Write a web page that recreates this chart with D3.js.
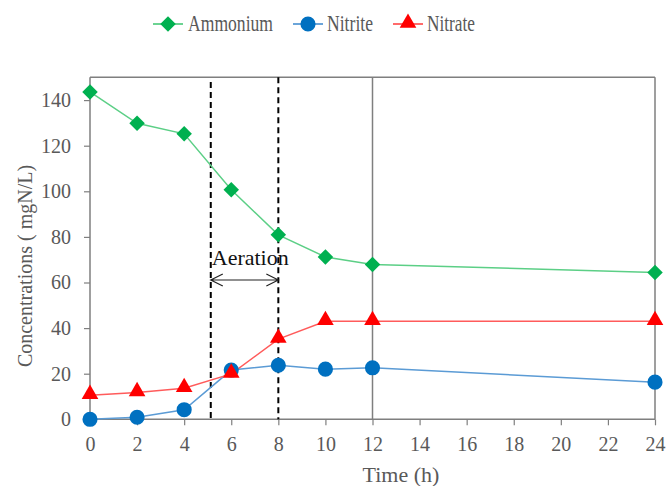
<!DOCTYPE html>
<html>
<head>
<meta charset="utf-8">
<script src="https://cdn.jsdelivr.net/npm/d3@7"></script>
<style>
  html, body { margin: 0; padding: 0; background: #fff; }
  svg { display: block; }
</style>
</head>
<body>
<svg id="chart" width="667" height="486"></svg>
<script>
const times = [0, 2, 4, 6, 8, 10, 12, 24];
const ammonium = [143.6, 129.8, 125.2, 100.7, 80.9, 71.2, 67.9, 64.4];
const nitrite = [0, 0.9, 4.2, 21.6, 23.7, 22.0, 22.6, 16.3];
const nitrate = [10.6, 11.8, 13.6, 19.9, 35.2, 43.0, 43.0, 43.0];
const xTicks = [0, 2, 4, 6, 8, 10, 12, 14, 16, 18, 20, 22, 24];
const yTicks = [0, 20, 40, 60, 80, 100, 120, 140];
const seriesNames = ["Ammonium", "Nitrite", "Nitrate"];
const aerationStart = 5.13, aerationEnd = 8, markerLine = 12;

const FONT = "Liberation Serif";
const svg = d3.select("#chart");
const x = d3.scaleLinear().domain([0, 24]).range([90, 655]);
const y = d3.scaleLinear().domain([0, 150]).range([419.3, 77.3]);

const axisGray = "#7f7f7f";
const textGray = "#595959";

// frame top and right
svg.append("line").attr("x1", x(0)).attr("x2", x(24)).attr("y1", y(150)).attr("y2", y(150))
  .attr("stroke", axisGray).attr("stroke-width", 1.5);
svg.append("line").attr("x1", x(24)).attr("x2", x(24)).attr("y1", y(150)).attr("y2", y(0))
  .attr("stroke", axisGray).attr("stroke-width", 1.5);

// axes
const yAxis = svg.append("g").attr("transform", `translate(${x(0)},0)`)
  .call(d3.axisLeft(y).tickValues(yTicks).tickSize(6).tickPadding(13).tickFormat(d3.format("d")));
const xAxis = svg.append("g").attr("transform", `translate(0,${y(0)})`)
  .call(d3.axisBottom(x).tickValues(xTicks).tickSize(6).tickPadding(12).tickFormat(d3.format("d")));
[xAxis, yAxis].forEach(g => {
  g.attr("font-family", FONT).attr("font-size", 20);
  g.select(".domain").attr("stroke", axisGray).attr("stroke-width", 1.5);
  g.selectAll(".tick line").attr("stroke", axisGray).attr("stroke-width", 1.2);
  g.selectAll(".tick text").attr("fill", textGray).attr("font-family", FONT).attr("font-size", 20);
});
yAxis.select(".domain").attr("d", `M0,${y(150)}V${y(0)}`);
xAxis.select(".domain").attr("d", `M${x(0)},0H${x(24)}`);

// vertical line at 12
svg.append("line").attr("x1", x(markerLine)).attr("x2", x(markerLine)).attr("y1", y(150)).attr("y2", y(0))
  .attr("stroke", axisGray).attr("stroke-width", 1.5);

// aeration dashed lines
svg.append("line").attr("x1", x(aerationStart)).attr("x2", x(aerationStart)).attr("y1", 82).attr("y2", y(0))
  .attr("stroke", "#000").attr("stroke-width", 2).attr("stroke-dasharray", "6,4");
svg.append("line").attr("x1", x(aerationEnd)).attr("x2", x(aerationEnd)).attr("y1", y(150)).attr("y2", y(0))
  .attr("stroke", "#000").attr("stroke-width", 2).attr("stroke-dasharray", "6,4");

// arrow
const ay = 280, ax1 = x(aerationStart), ax2 = x(aerationEnd);
svg.append("path")
  .attr("d", `M${ax1},${ay}H${ax2} M${ax1 + 12},${ay - 6}L${ax1},${ay}L${ax1 + 12},${ay + 6} M${ax2 - 12},${ay - 6}L${ax2},${ay}L${ax2 - 12},${ay + 6}`)
  .attr("fill", "none").attr("stroke", "#222").attr("stroke-width", 1.2);
svg.append("text").attr("x", ax1 + 1).attr("y", 265).text("Aeration")
  .attr("font-size", 22).attr("font-family", FONT).attr("fill", "#111");

// series
const series = [
  { name: seriesNames[0], values: ammonium, line: "#5ccf86", fill: "#00b050", shape: "diamond" },
  { name: seriesNames[1], values: nitrite, line: "#5b9bd5", fill: "#0070c0", shape: "circle" },
  { name: seriesNames[2], values: nitrate, line: "#ff5b5b", fill: "#ff0000", shape: "triangle" }
];
function symPath(shape) {
  if (shape === "diamond") return d3.symbol().type(d3.symbolSquare).size(120)();
  if (shape === "circle") return d3.symbol().type(d3.symbolCircle).size(180)();
  return d3.symbol().type(d3.symbolTriangle).size(120)();
}
function symTransform(shape, cx, cy) {
  if (shape === "diamond") return `translate(${cx},${cy}) rotate(45)`;
  if (shape === "triangle") return `translate(${cx},${cy - 1})`;
  return `translate(${cx},${cy})`;
}
const lineGen = d3.line().x((d, i) => x(times[i])).y(d => y(d));

series.forEach(s => {
  svg.append("path").datum(s.values).attr("d", lineGen)
    .attr("fill", "none").attr("stroke", s.line).attr("stroke-width", 1.5);
});
series.forEach(s => {
  svg.append("g").selectAll("path").data(s.values).join("path")
    .attr("d", symPath(s.shape))
    .attr("transform", (d, i) => symTransform(s.shape, x(times[i]), y(d)))
    .attr("fill", s.fill);
});

// legend
const legend = [
  { lx1: 153, lx2: 183, tx: 188, tw: 85 },
  { lx1: 293, lx2: 323, tx: 327, tw: 46 },
  { lx1: 393, lx2: 423, tx: 427, tw: 48 }
];
series.forEach((s, i) => {
  const L = legend[i];
  const g = svg.append("g");
  g.append("line").attr("x1", L.lx1).attr("x2", L.lx2).attr("y1", 24).attr("y2", 24)
    .attr("stroke", s.line).attr("stroke-width", 1.8);
  const cx = (L.lx1 + L.lx2) / 2;
  g.append("path").attr("d", symPath(s.shape)).attr("transform", symTransform(s.shape, cx, 24)).attr("fill", s.fill);
  g.append("text").attr("x", L.tx).attr("y", 31).text(s.name)
    .attr("textLength", L.tw).attr("lengthAdjust", "spacingAndGlyphs")
    .attr("font-size", 23).attr("font-family", FONT).attr("fill", textGray);
});

// axis titles
svg.append("text").attr("x", 401).attr("y", 482).attr("text-anchor", "middle")
  .text("Time (h)").attr("font-size", 22).attr("font-family", FONT).attr("fill", textGray);
svg.append("text").attr("transform", "translate(32,266) rotate(-90)").attr("text-anchor", "middle")
  .text("Concentrations ( mgN/L)").attr("font-size", 20).attr("font-family", FONT).attr("fill", textGray);
</script>
</body>
</html>
